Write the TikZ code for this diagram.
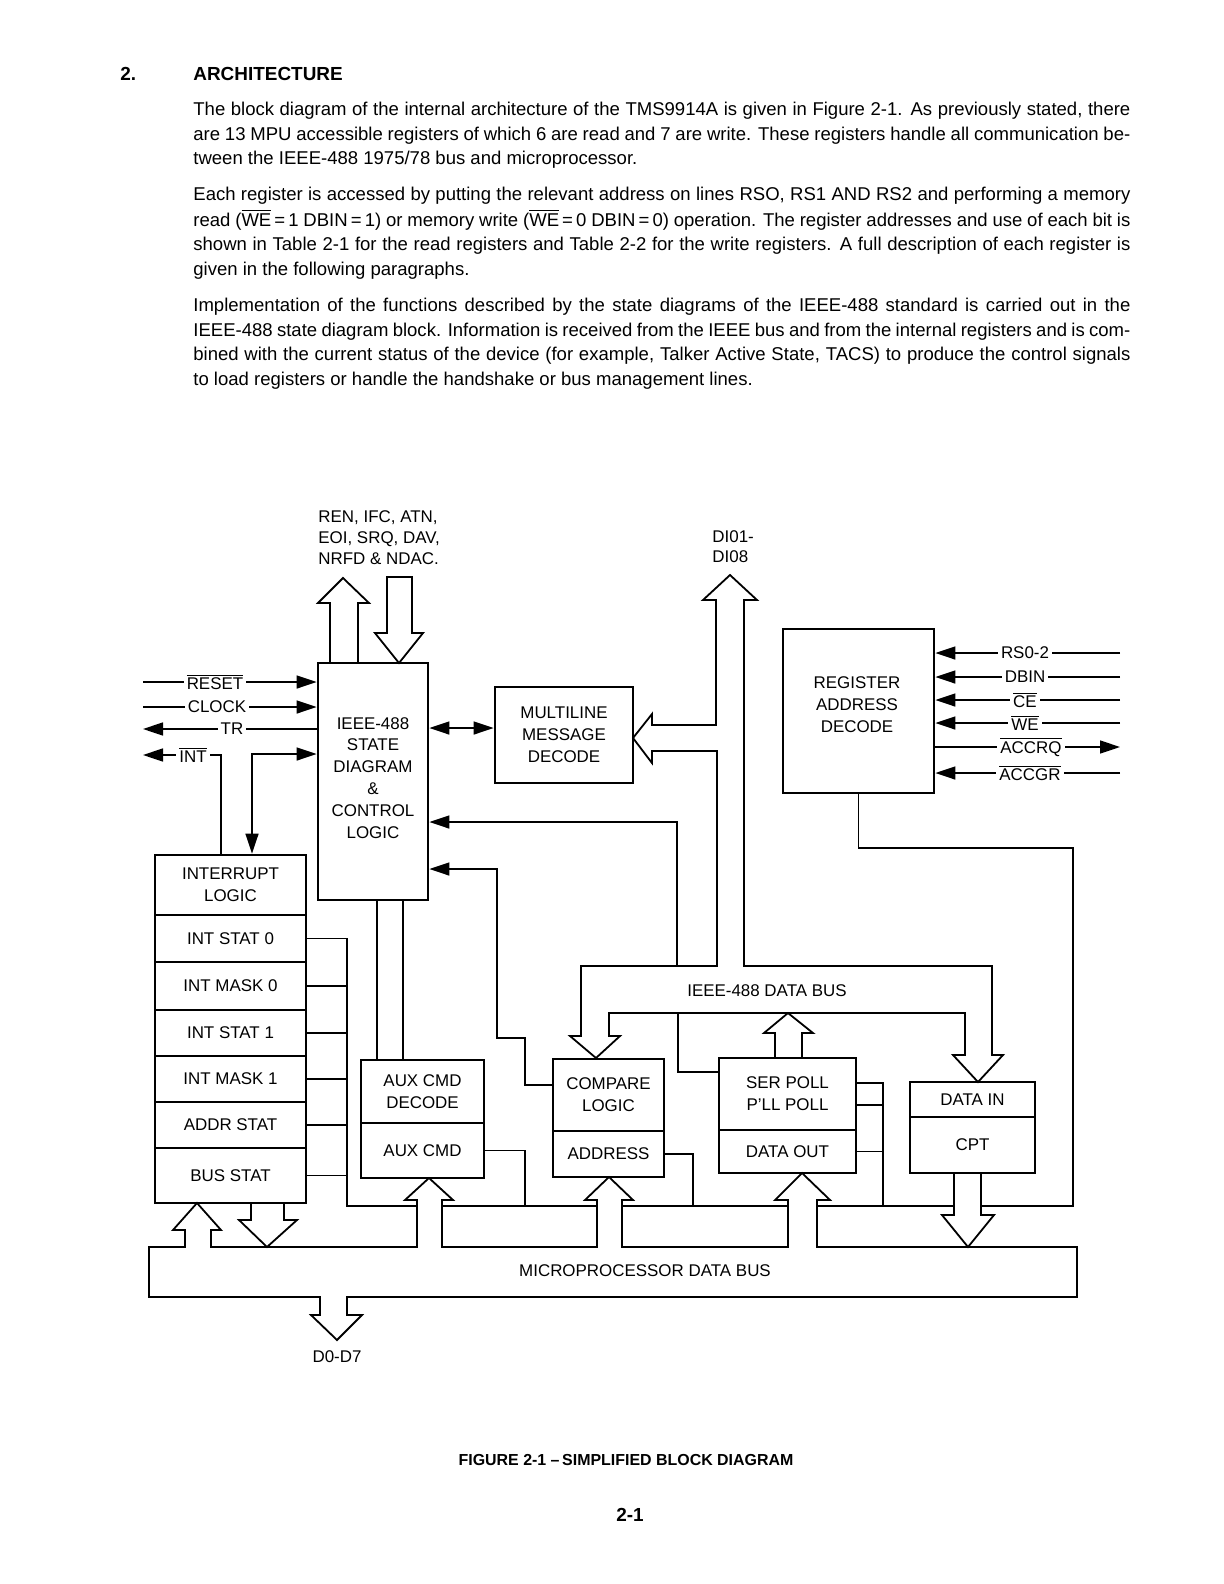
\documentclass[tikz,border=0pt]{standalone}
\usepackage{fontspec}
\setmainfont{Liberation Sans}
\usetikzlibrary{arrows.meta,fit}
\newcommand{\ovl}[1]{\ensuremath{\overline{\mbox{#1}}}}
\newcommand{\dfont}{\fontsize{8.5}{11}\selectfont}
\newcommand{\bfont}{\fontsize{9.3}{12}\selectfont}
\newcommand{\bodyline}[3]{\node[anchor=base west,inner sep=0pt,font=\bfont] (#1) at (193,#2) {\makebox[468.5bp][s]{#3}};}
\newcommand{\bodylast}[3]{\node[anchor=base west,inner sep=0pt,font=\bfont] (#1) at (193,#2) {#3};}
\tikzset{tri/.tip={Triangle[length=10bp,width=6.5bp]}}
\begin{document}
\begin{tikzpicture}[x=0.5bp,y=-0.5bp,
  blk/.style={draw,line width=1.4bp,inner sep=0pt},
  txt/.style={font=\dfont,align=center,inner sep=0pt},
  ln/.style={line width=0.8bp},
  hol/.style={line width=0.9bp,line join=miter},
  sig/.style={font=\dfont,fill=white,inner xsep=1.5bp,inner ysep=0.6bp},
  lab/.style={font=\dfont,inner sep=0pt,anchor=base west}]
\fill[white] (0,0) rectangle (1224,1584);
\useasboundingbox (0,0) rectangle (1224,1584);

% ---------- heading and text ----------
\node[anchor=base west,inner sep=0pt,font=\bfseries\fontsize{9.5}{11}\selectfont] (hnum) at (120,80) {2.};
\node[anchor=base west,inner sep=0pt,font=\bfseries\fontsize{9.5}{11}\selectfont] (htit) at (193,80) {ARCHITECTURE};

\bodyline{p1a}{115}{The block diagram of the internal architecture of the TMS9914A is given in Figure 2-1. As previously stated, there}
\bodyline{p1b}{140}{are 13 MPU accessible registers of which 6 are read and 7 are write. These registers handle all communication be-}
\bodylast{p1c}{164}{tween the IEEE-488 1975/78 bus and microprocessor.}

\bodyline{p2a}{200}{Each register is accessed by putting the relevant address on lines RSO, RS1 AND RS2 and performing a memory}
\bodyline{p2b}{226}{read (\ovl{WE}\,=\,1 DBIN\,=\,1) or memory write (\ovl{WE}\,=\,0 DBIN\,=\,0) operation. The register addresses and use of each bit is}
\bodyline{p2c}{250}{shown in Table 2-1 for the read registers and Table 2-2 for the write registers. A full description of each register is}
\bodylast{p2d}{275}{given in the following paragraphs.}

\bodyline{p3a}{311}{Implementation of the functions described by the state diagrams of the IEEE-488 standard is carried out in the}
\bodyline{p3b}{336}{IEEE-488 state diagram block. Information is received from the IEEE bus and from the internal registers and is com-}
\bodyline{p3c}{360}{bined with the current status of the device (for example, Talker Active State, TACS) to produce the control signals}
\bodylast{p3d}{385}{to load registers or handle the handshake or bus management lines.}

% ---------- blocks ----------
\node[blk,fit={(318,663) (428,900)}] (state) {};
\node[txt] (stateT) at (373,778) {IEEE-488\\STATE\\DIAGRAM\\\&\\CONTROL\\LOGIC};
\node[blk,fit={(495,687) (633,783)}] (mld) {};
\node[txt] (mldT) at (mld) {MULTILINE\\MESSAGE\\DECODE};
\node[blk,fit={(783,629) (934,793)}] (rad) {};
\node[txt] (radT) at (857,705) {REGISTER\\ADDRESS\\DECODE};

\node[blk,fit={(155,855) (306,915)}] (ilog) {};
\node[blk,fit={(155,915) (306,962)}] (is0) {};
\node[blk,fit={(155,962) (306,1010)}] (im0) {};
\node[blk,fit={(155,1010) (306,1056)}] (is1) {};
\node[blk,fit={(155,1056) (306,1102)}] (im1) {};
\node[blk,fit={(155,1102) (306,1148)}] (ast) {};
\node[blk,fit={(155,1148) (306,1203)}] (bst) {};
\node[txt] (ilogT) at (ilog) {INTERRUPT\\LOGIC};
\node[txt] (is0T) at (is0) {INT STAT 0};
\node[txt] (im0T) at (im0) {INT MASK 0};
\node[txt] (is1T) at (is1) {INT STAT 1};
\node[txt] (im1T) at (im1) {INT MASK 1};
\node[txt] (astT) at (ast) {ADDR STAT};
\node[txt] (bstT) at (bst) {BUS STAT};

\node[blk,fit={(361,1060) (484,1123)}] (acd) {};
\node[blk,fit={(361,1123) (484,1178)}] (acmd) {};
\node[blk,fit={(553,1059) (664,1131)}] (cmp) {};
\node[blk,fit={(553,1131) (664,1177)}] (adr) {};
\node[blk,fit={(719,1058) (856,1130)}] (spl) {};
\node[blk,fit={(719,1130) (856,1173)}] (dout) {};
\node[blk,fit={(910,1082) (1035,1117)}] (din) {};
\node[blk,fit={(910,1117) (1035,1173)}] (cpt) {};
\node[txt] (acdT) at (acd) {AUX CMD\\DECODE};
\node[txt] (acmdT) at (acmd) {AUX CMD};
\node[txt] (cmpT) at (cmp) {COMPARE\\LOGIC};
\node[txt] (adrT) at (adr) {ADDRESS};
\node[txt] (splT) at (spl) {SER POLL\\P’LL POLL};
\node[txt] (doutT) at (dout) {DATA OUT};
\node[txt] (dinT) at (din) {DATA IN};
\node[txt] (cptT) at (cpt) {CPT};

% ---------- hollow bus arrows ----------
\draw[hol] (330,663) -- (330,603) -- (318,603) -- (343,578) -- (369,603) -- (358,603) -- (358,663);
\draw[hol] (387,577) -- (412,577) -- (412,633) -- (423,633) -- (399,663) -- (375,633) -- (387,633) -- cycle;

% IEEE-488 data bus
\draw[hol] (716,600) -- (703,600) -- (730,575) -- (757,600) -- (744,600) -- (744,966) -- (992,966)
  -- (992,1055) -- (1003,1055) -- (978,1082) -- (953,1055) -- (965,1055) -- (965,1013) -- (609,1013)
  -- (609,1036) -- (620,1036) -- (596,1058) -- (570,1036) -- (581,1036) -- (581,966) -- (717,966)
  -- (717,751) -- (652,751) -- (652,763) -- (633,738) -- (652,714) -- (652,725) -- (716,725) -- cycle;
\draw[hol] (775,1058) -- (775,1033) -- (764,1033) -- (788,1013) -- (813,1033) -- (802,1033) -- (802,1058);

% microprocessor data bus
\draw[hol] (185,1247) -- (149,1247) -- (149,1297) -- (320,1297) -- (320,1315) -- (311,1315) -- (337,1340)
  -- (362,1315) -- (347,1315) -- (347,1297) -- (1077,1297) -- (1077,1247) -- (817,1247) -- (817,1200)
  -- (830,1200) -- (802,1173) -- (775,1200) -- (788,1200) -- (788,1247) -- (622,1247) -- (622,1200)
  -- (633,1200) -- (609,1177) -- (585,1200) -- (597,1200) -- (597,1247) -- (442,1247) -- (442,1200)
  -- (453,1200) -- (429,1178) -- (405,1200) -- (417,1200) -- (417,1247) -- (211,1247) -- (211,1230)
  -- (221,1230) -- (197,1203) -- (173,1230) -- (185,1230) -- cycle;
\draw[hol] (251,1203) -- (251,1220) -- (239,1220) -- (267,1247) -- (297,1220) -- (284,1220) -- (284,1203);
\draw[hol] (954,1173) -- (954,1215) -- (942,1215) -- (968,1247) -- (994,1215) -- (981,1215) -- (981,1173);
\draw[hol] (442,1206) -- (597,1206);
\draw[hol] (622,1206) -- (788,1206);
\draw[hol] (817,1206) -- (954,1206);

% ---------- connectors ----------
\coordinate (cRes) at (143,682);
\coordinate (cClk) at (143,707);
\coordinate (cTr) at (143,729);
\coordinate (cInt) at (143,755);
\coordinate (cIntX) at (221,755);
\coordinate (cSiX) at (252,754);
\draw[ln,-tri] (cRes) -- (cRes -| state.west);
\draw[ln,-tri] (cClk) -- (cClk -| state.west);
\draw[ln,-tri] (cTr -| state.west) -- (cTr);
\draw[ln,-tri] (cIntX |- ilog.north) -- (cIntX) -- (cInt);
\draw[ln,tri-tri] (cSiX |- ilog.north) -- (cSiX) -- (cSiX -| state.west);

\coordinate (cMl) at (460,728);
\draw[ln,tri-tri] (cMl -| state.east) -- (cMl -| mld.west);

\coordinate (cBusS) at (677,966);
\coordinate (cSb) at (677,822);
\draw[ln,-tri] (cBusS) -- (cSb) -- (cSb -| state.east);

\coordinate (cCmpA) at (525,1085);
\coordinate (cCmpB) at (525,1038);
\coordinate (cCmpC) at (497,1038);
\coordinate (cCmpD) at (497,869);
\draw[ln,-tri] (cCmpA -| cmp.west) -- (cCmpA) -- (cCmpB) -- (cCmpC) -- (cCmpD) -- (cCmpD -| state.east);

\coordinate (cSa1) at (377,980);
\coordinate (cSa2) at (403,980);
\draw[ln] (cSa1 |- state.south) -- (cSa1 |- acd.north);
\draw[ln] (cSa2 |- state.south) -- (cSa2 |- acd.north);

\coordinate (cCol) at (347,1206);
\coordinate (cAuxL) at (417,1206);
\draw[ln] (is0.east) -| (cCol) -- (cAuxL);
\foreach \n in {im0,is1,im1,ast,bst} \draw[ln] (\n.east) -- (\n.east -| cCol);

\coordinate (cAcR) at (525,1206);
\draw[ln] (acmd.east) -| (cAcR);
\coordinate (cAdR) at (693,1206);
\draw[ln] (adr.east) -| (cAdR);

\coordinate (cSpR) at (883,1206);
\coordinate (cSp1) at (883,1083);
\coordinate (cSp2) at (883,1105);
\draw[ln] (cSp1 -| spl.east) -- (cSp1) -- (cSpR);
\draw[ln] (cSp2 -| spl.east) -- (cSp2);
\draw[ln] (dout.east) -- (dout.east -| cSpR);

\coordinate (cSlT) at (678,1013);
\coordinate (cSlB) at (678,1072);
\draw[ln] (cSlT) -- (cSlB) -- (cSlB -| spl.west);

\coordinate (cRdA) at (1073,848);
\coordinate (cRdB) at (1073,1206);
\coordinate (cRdC) at (981,1206);
\draw[ln] (rad.south) |- (cRdA) -- (cRdB) -- (cRdC);

\coordinate (rRs) at (1120,653);
\coordinate (rDbin) at (1120,677);
\coordinate (rCe) at (1120,700);
\coordinate (rWe) at (1120,723);
\coordinate (rAccrq) at (1120,747);
\coordinate (rAccgr) at (1120,773);
\draw[ln,-tri] (rRs) -- (rRs -| rad.east);
\draw[ln,-tri] (rDbin) -- (rDbin -| rad.east);
\draw[ln,-tri] (rCe) -- (rCe -| rad.east);
\draw[ln,-tri] (rWe) -- (rWe -| rad.east);
\draw[ln,-tri] (rAccrq -| rad.east) -- (rAccrq);
\draw[ln,-tri] (rAccgr) -- (rAccgr -| rad.east);

% ---------- labels ----------
\node[sig] (lReset) at (215,682) {\ovl{RESET}};
\node[sig] (lClock) at (217,707) {CLOCK};
\node[sig] (lTr) at (232,729) {TR};
\node[sig] (lInt) at (193,755) {\ovl{INT}};
\node[sig] (lRs) at (1025,653) {RS0-2};
\node[sig] (lDbin) at (1025,677) {DBIN};
\node[sig] (lCe) at (1025,700) {\ovl{CE}};
\node[sig] (lWe) at (1025,723) {\ovl{WE}};
\node[sig] (lAccrq) at (1031,747) {\ovl{ACCRQ}};
\node[sig] (lAccgr) at (1030,773) {\ovl{ACCGR}};

\node[lab] (bus1) at (318,522) {REN, IFC, ATN,};
\node[lab] (bus2) at (318,543) {EOI, SRQ, DAV,};
\node[lab] (bus3) at (318,564) {NRFD \& NDAC.};
\node[lab] (di1) at (712,542) {DI01-};
\node[lab] (di2) at (712,562) {DI08};
\node[font=\dfont,inner sep=0pt] (ieeeT) at (767,991) {IEEE-488 DATA BUS};
\node[font=\dfont,inner sep=0pt] (mpuT) at (645,1271) {MICROPROCESSOR DATA BUS};
\node[font=\dfont,inner sep=0pt] (d07) at (337,1357) {D0-D7};

\node[font=\bfseries\fontsize{8}{10}\selectfont,inner sep=0pt] (cap) at (626,1460) {FIGURE 2-1 –\,SIMPLIFIED BLOCK DIAGRAM};
\node[font=\bfseries\fontsize{9.5}{11}\selectfont,inner sep=0pt] (pg) at (630,1515) {2-1};
\end{tikzpicture}
\end{document}
